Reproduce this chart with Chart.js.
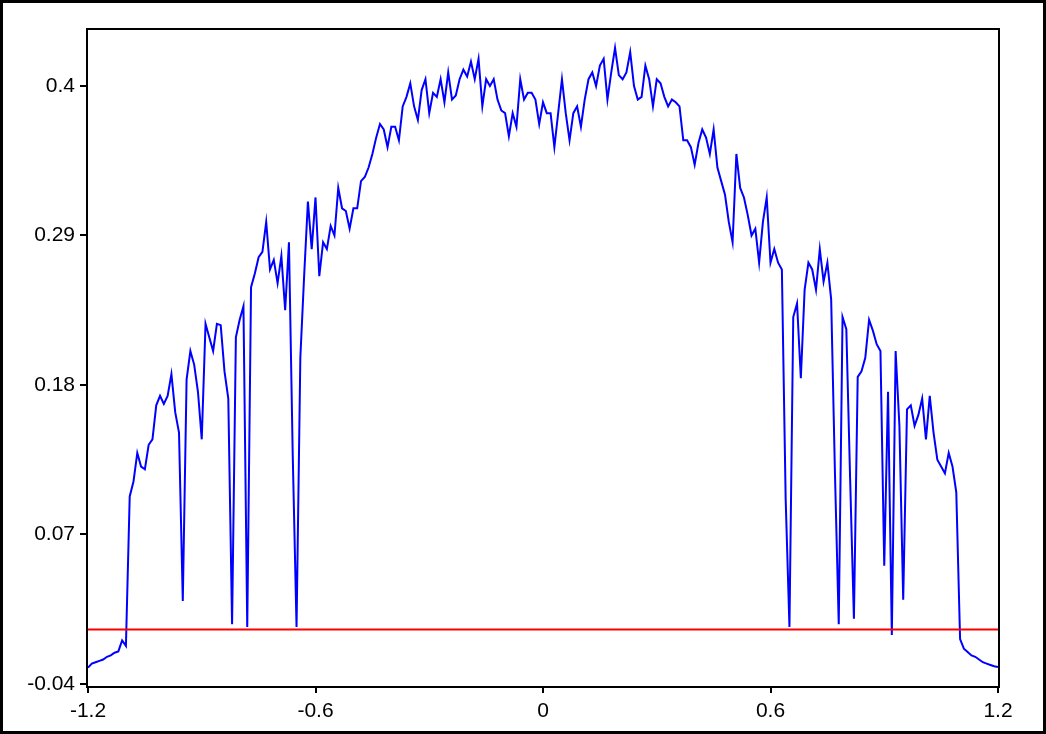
<!DOCTYPE html>
<html>
<head>
<meta charset="utf-8">
<script src="https://cdn.jsdelivr.net/npm/chart.js@4.4.1/dist/chart.umd.min.js"></script>
<style>
    html, body { margin: 0; padding: 0; background: #fff; }
    #wrap { width: 1046px; height: 734px; }
</style>
</head>
<body>
<div id="wrap"><canvas id="grafico" width="1046" height="734"></canvas></div>
<script>
// posicoes no eixo x (passo de 0.01)
var xVals = [
    -1.2, -1.19, -1.18, -1.17, -1.16, -1.15, -1.14, -1.13, -1.12, -1.11,
    -1.1, -1.09, -1.08, -1.07, -1.06, -1.05, -1.04, -1.03, -1.02, -1.01,
    -1, -0.99, -0.98, -0.97, -0.96, -0.95, -0.94, -0.93, -0.92, -0.91,
    -0.9, -0.89, -0.88, -0.87, -0.86, -0.85, -0.84, -0.83, -0.82, -0.81,
    -0.8, -0.79, -0.78, -0.77, -0.76, -0.75, -0.74, -0.73, -0.72, -0.71,
    -0.7, -0.69, -0.68, -0.67, -0.66, -0.65, -0.64, -0.63, -0.62, -0.61,
    -0.6, -0.59, -0.58, -0.57, -0.56, -0.55, -0.54, -0.53, -0.52, -0.51,
    -0.5, -0.49, -0.48, -0.47, -0.46, -0.45, -0.44, -0.43, -0.42, -0.41,
    -0.4, -0.39, -0.38, -0.37, -0.36, -0.35, -0.34, -0.33, -0.32, -0.31,
    -0.3, -0.29, -0.28, -0.27, -0.26, -0.25, -0.24, -0.23, -0.22, -0.21,
    -0.2, -0.19, -0.18, -0.17, -0.16, -0.15, -0.14, -0.13, -0.12, -0.11,
    -0.1, -0.09, -0.08, -0.07, -0.06, -0.05, -0.04, -0.03, -0.02, -0.01,
    0, 0.01, 0.02, 0.03, 0.04, 0.05, 0.06, 0.07, 0.08, 0.09,
    0.1, 0.11, 0.12, 0.13, 0.14, 0.15, 0.16, 0.17, 0.18, 0.19,
    0.2, 0.21, 0.22, 0.23, 0.24, 0.25, 0.26, 0.27, 0.28, 0.29,
    0.3, 0.31, 0.32, 0.33, 0.34, 0.35, 0.36, 0.37, 0.38, 0.39,
    0.4, 0.41, 0.42, 0.43, 0.44, 0.45, 0.46, 0.47, 0.48, 0.49,
    0.5, 0.51, 0.52, 0.53, 0.54, 0.55, 0.56, 0.57, 0.58, 0.59,
    0.6, 0.61, 0.62, 0.63, 0.64, 0.65, 0.66, 0.67, 0.68, 0.69,
    0.7, 0.71, 0.72, 0.73, 0.74, 0.75, 0.76, 0.77, 0.78, 0.79,
    0.8, 0.81, 0.82, 0.83, 0.84, 0.85, 0.86, 0.87, 0.88, 0.89,
    0.9, 0.91, 0.92, 0.93, 0.94, 0.95, 0.96, 0.97, 0.98, 0.99,
    1, 1.01, 1.02, 1.03, 1.04, 1.05, 1.06, 1.07, 1.08, 1.09,
    1.1, 1.11, 1.12, 1.13, 1.14, 1.15, 1.16, 1.17, 1.18, 1.19,
    1.2
];

var yVals = [
    -0.028, -0.025, -0.024, -0.023, -0.022, -0.020, -0.019, -0.017, -0.016, -0.008,
    -0.012, 0.098, 0.109, 0.13, 0.12, 0.118, 0.136, 0.14, 0.165, 0.172,
    0.166, 0.172, 0.188, 0.16, 0.145, 0.021, 0.184, 0.205, 0.195, 0.175,
    0.14, 0.225, 0.215, 0.205, 0.225, 0.224, 0.19, 0.17, 0.004, 0.215,
    0.228, 0.238, 0.002, 0.252, 0.262, 0.274, 0.278, 0.3, 0.265, 0.272,
    0.255, 0.275, 0.235, 0.285, 0.128, 0.002, 0.2, 0.26, 0.315, 0.28,
    0.318, 0.26, 0.285, 0.28, 0.297, 0.29, 0.325, 0.31, 0.308, 0.295,
    0.31, 0.31, 0.33, 0.333, 0.34, 0.35, 0.362, 0.372, 0.368, 0.355,
    0.37, 0.37, 0.36, 0.385, 0.392, 0.402, 0.385, 0.375, 0.397, 0.405,
    0.38, 0.395, 0.392, 0.405, 0.388, 0.41, 0.39, 0.393, 0.405, 0.412,
    0.407, 0.418, 0.405, 0.42, 0.385, 0.405, 0.4, 0.405, 0.39, 0.382,
    0.38, 0.363, 0.38, 0.37, 0.405, 0.39, 0.395, 0.395, 0.39, 0.372,
    0.388, 0.38, 0.38, 0.355, 0.38, 0.405, 0.38, 0.36, 0.38, 0.385,
    0.37, 0.39, 0.405, 0.41, 0.4, 0.415, 0.42, 0.39, 0.41, 0.428,
    0.408, 0.405, 0.41, 0.425, 0.4, 0.39, 0.392, 0.415, 0.405, 0.385,
    0.405, 0.402, 0.392, 0.385, 0.39, 0.388, 0.385, 0.36, 0.36, 0.355,
    0.342, 0.358, 0.368, 0.362, 0.35, 0.368, 0.34, 0.33, 0.32, 0.3,
    0.285, 0.35, 0.325, 0.318, 0.305, 0.29, 0.295, 0.27, 0.3, 0.318,
    0.27, 0.28, 0.27, 0.265, 0.096, 0.002, 0.23, 0.24, 0.185, 0.25,
    0.27, 0.265, 0.25, 0.28, 0.256, 0.27, 0.243, 0.115, 0.004, 0.23,
    0.221, 0.111, 0.008, 0.186, 0.19, 0.2, 0.228, 0.22, 0.21, 0.205,
    0.047, 0.175, -0.004, 0.205, 0.15, 0.022, 0.162, 0.165, 0.15, 0.158,
    0.17, 0.14, 0.172, 0.145, 0.125, 0.12, 0.115, 0.13, 0.12, 0.101,
    -0.007, -0.014, -0.0165, -0.019, -0.02, -0.022, -0.024, -0.025, -0.026, -0.027,
    -0.0275
];

// linha vermelha de referencia
var refX = [-1.2, 1.2];
var refY = [0, 0];

var xTicks = [-1.2, -0.6, 0, 0.6, 1.2];
var yTicks = [-0.04, 0.07, 0.18, 0.29, 0.4];

var pontos = xVals.map(function (x, i) { return { x: x, y: yVals[i] }; });
var pontosRef = refX.map(function (x, i) { return { x: x, y: refY[i] }; });

var fonte = { family: "'Liberation Sans', Arial, sans-serif", size: 21 };

// moldura do grafico e borda externa
var molduras = {
    id: 'molduras',
    afterDraw: function (chart) {
        var ctx = chart.ctx;
        var a = chart.chartArea;
        ctx.save();
        ctx.strokeStyle = '#000';
        ctx.lineWidth = 2;
        ctx.strokeRect(a.left - 1, a.top - 1, a.right - a.left + 2, a.bottom - a.top + 2);
        ctx.lineWidth = 3;
        ctx.strokeRect(1.5, 1.5, chart.width - 3, chart.height - 3);
        ctx.restore();
    }
};

var grafico = new Chart(document.getElementById('grafico'), {
    type: 'line',
    data: {
        datasets: [
            {
                data: pontosRef,
                borderColor: '#ff0000',
                borderWidth: 2,
                pointRadius: 0,
                tension: 0
            },
            {
                data: pontos,
                borderColor: '#0000ff',
                borderWidth: 2,
                pointRadius: 0,
                tension: 0
            }
        ]
    },
    options: {
        responsive: false,
        animation: false,
        events: [],
        layout: { padding: { top: 30, right: 48, left: 0, bottom: 0 } },
        plugins: {
            legend: { display: false },
            tooltip: { enabled: false }
        },
        scales: {
            x: {
                type: 'linear',
                min: -1.2,
                max: 1.2,
                afterBuildTicks: function (s) { s.ticks = xTicks.map(function (v) { return { value: v }; }); },
                afterFit: function (s) { s.height = 48; },
                border: { display: false },
                grid: { drawOnChartArea: false, drawTicks: true, tickLength: 7, color: '#000', lineWidth: 2 },
                ticks: {
                    autoSkip: false,
                    maxRotation: 0,
                    padding: 6,
                    color: '#000',
                    font: fonte,
                    callback: function (v) { return String(v); }
                }
            },
            y: {
                min: -0.0415,
                max: 0.4412,
                afterBuildTicks: function (s) { s.ticks = yTicks.map(function (v) { return { value: v }; }); },
                afterFit: function (s) { s.width = 88; },
                border: { display: false },
                grid: { drawOnChartArea: false, drawTicks: true, tickLength: 8, color: '#000', lineWidth: 2 },
                ticks: {
                    padding: 5,
                    color: '#000',
                    font: fonte,
                    callback: function (v) { return String(v); }
                }
            }
        }
    },
    plugins: [molduras]
});
</script>
</body>
</html>
